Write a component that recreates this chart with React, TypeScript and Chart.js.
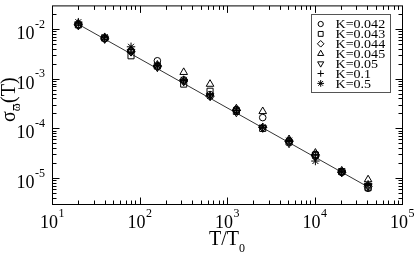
import React, { useEffect, useRef } from 'react';
import { Chart, registerables } from 'chart.js';

Chart.register(...registerables);

// ---- data ----
const xValues = [20, 40, 80, 160, 320, 640, 1280, 2560, 5120, 10240, 20480, 40960];
const seriesLabels = ['K=0.042', 'K=0.043', 'K=0.044', 'K=0.045', 'K=0.05', 'K=0.1', 'K=0.5'];
const k042 = [1.2e-2, 6.5e-3, 3.7e-3, 2.3e-3, 9.5e-4, 4.8e-4, 2.4e-4, 1.65e-4, 5.6e-5, 3.0e-5, 1.3e-5, 6.2e-6];
const k043 = [1.22e-2, 6.6e-3, 2.9e-3, 1.8e-3, 7.8e-4, 5.6e-4, 2.2e-4, 1.0e-4, 5.3e-5, 2.9e-5, 1.35e-5, 6.4e-6];
const k044 = [1.24e-2, 6.4e-3, 3.5e-3, 1.75e-3, 9.0e-4, 4.4e-4, 2.3e-4, 1.05e-4, 5.4e-5, 2.8e-5, 1.3e-5, 6.8e-6];
const k045 = [1.3e-2, 6.8e-3, 3.8e-3, 1.9e-3, 1.35e-3, 7.8e-4, 2.5e-4, 2.2e-4, 6.0e-5, 3.2e-5, 1.4e-5, 9.3e-6];
const k05 = [1.18e-2, 6.3e-3, 3.5e-3, 1.7e-3, 8.8e-4, 4.5e-4, 2.1e-4, 1.02e-4, 5.0e-5, 2.7e-5, 1.3e-5, 7.0e-6];
const k1 = [1.25e-2, 6.7e-3, 3.6e-3, 1.8e-3, 9.2e-4, 4.7e-4, 2.3e-4, 1.06e-4, 5.6e-5, 2.9e-5, 1.32e-5, 7.2e-6];
const k5 = [1.38e-2, 6.9e-3, 4.4e-3, 1.85e-3, 9.5e-4, 4.5e-4, 2.35e-4, 1.05e-4, 5.7e-5, 2.2e-5, 1.35e-5, 7.5e-6];
const seriesValues = [k042, k043, k044, k045, k05, k1, k5];
const fitX = [20, 40960];
const fitY = [1.25e-2, 6.6e-6];

const xMajorTicks = [10, 100, 1000, 10000, 100000];
const xTickExponents = ['1', '2', '3', '4', '5'];
const yMajorTicks = [1e-5, 1e-4, 1e-3, 1e-2];
const yTickExponents = ['-5', '-4', '-3', '-2'];
const xMin = 10, xMax = 1e5, yMin = 3e-6, yMax = 3e-2;

// ---- styles ----
const markerStyles = [
  { style: 'circle', rot: 0, r: 3.3 },
  { style: 'rect', rot: 0, r: 4.3 },
  { style: 'rectRot', rot: 0, r: 4.1 },
  { style: 'triangle', rot: 0, r: 4.4 },
  { style: 'triangle', rot: 180, r: 4.4 },
  { style: 'cross', rot: 0, r: 4 },
  { style: 'star', rot: 0, r: 4.2 },
];
const SERIF = '"Liberation Serif", "Times New Roman", serif';

function drawMarker(ctx: CanvasRenderingContext2D, style: string, rot: number, x: number, y: number, r: number) {
  ctx.beginPath();
  if (style === 'circle') {
    ctx.arc(x, y, r, 0, Math.PI * 2);
  } else if (style === 'rect') {
    const s = Math.SQRT1_2 * r;
    ctx.rect(x - s, y - s, 2 * s, 2 * s);
  } else if (style === 'rectRot') {
    ctx.moveTo(x - r, y); ctx.lineTo(x, y - r); ctx.lineTo(x + r, y); ctx.lineTo(x, y + r); ctx.closePath();
  } else if (style === 'triangle') {
    let a = (rot * Math.PI) / 180;
    ctx.moveTo(x + Math.sin(a) * r, y - Math.cos(a) * r);
    a += (2 * Math.PI) / 3;
    ctx.lineTo(x + Math.sin(a) * r, y - Math.cos(a) * r);
    a += (2 * Math.PI) / 3;
    ctx.lineTo(x + Math.sin(a) * r, y - Math.cos(a) * r);
    ctx.closePath();
  } else if (style === 'cross') {
    ctx.moveTo(x, y - r); ctx.lineTo(x, y + r); ctx.moveTo(x - r, y); ctx.lineTo(x + r, y);
  } else if (style === 'star') {
    ctx.moveTo(x, y - r); ctx.lineTo(x, y + r); ctx.moveTo(x - r, y); ctx.lineTo(x + r, y);
    const d = r * Math.SQRT1_2;
    ctx.moveTo(x - d, y - d); ctx.lineTo(x + d, y + d); ctx.moveTo(x - d, y + d); ctx.lineTo(x + d, y - d);
  }
  ctx.stroke();
}

function minorValues(min: number, max: number) {
  const out: number[] = [];
  for (let e = -7; e <= 6; e++) {
    for (let m = 1; m <= 9; m++) {
      const v = m * Math.pow(10, e);
      if (v >= min * 1.0001 && v <= max * 0.9999) out.push(v);
    }
  }
  return out;
}

const framePlugin = {
  id: 'framePlugin',
  afterDatasetsDraw(chart: any) {
    const { ctx, chartArea: a, scales } = chart;
    const xs = scales.x, ys = scales.y;
    const L = a.left + 0.5, R = a.right + 0.5, T = a.top + 0.5, B = a.bottom + 0.5;
    ctx.save();
    ctx.strokeStyle = '#000';
    ctx.lineWidth = 1;
    ctx.strokeRect(L, T, R - L, B - T);

    // ticks on all four sides, pointing inward
    ctx.beginPath();
    for (const v of minorValues(xMin, xMax)) {
      const px = Math.round(xs.getPixelForValue(v)) + 0.5;
      const major = xMajorTicks.some((m) => Math.abs(m - v) / m < 1e-6);
      const len = major ? 7 : 4;
      ctx.moveTo(px, B); ctx.lineTo(px, B - len);
      ctx.moveTo(px, T); ctx.lineTo(px, T + len);
    }
    for (const v of minorValues(yMin, yMax)) {
      const py = Math.round(ys.getPixelForValue(v)) + 0.5;
      const major = yMajorTicks.some((m) => Math.abs(m - v) / m < 1e-6);
      const len = major ? 7 : 4;
      ctx.moveTo(L, py); ctx.lineTo(L + len, py);
      ctx.moveTo(R, py); ctx.lineTo(R - len, py);
    }
    ctx.stroke();

    // tick labels
    ctx.fillStyle = '#000';
    ctx.textBaseline = 'alphabetic';
    ctx.textAlign = 'left';
    const big = `18px ${SERIF}`;
    const small = `12px ${SERIF}`;
    xMajorTicks.forEach((v, i) => {
      const px = xs.getPixelForValue(v);
      ctx.font = big;
      const w1 = ctx.measureText('10').width;
      ctx.font = small;
      const w2 = ctx.measureText(xTickExponents[i]).width;
      const x0 = px - (w1 + w2) / 2;
      ctx.font = big;
      ctx.fillText('10', x0, 228);
      ctx.font = small;
      ctx.fillText(xTickExponents[i], x0 + w1 + 0.5, 217);
    });
    yMajorTicks.forEach((v, i) => {
      const py = ys.getPixelForValue(v);
      ctx.font = small;
      const w2 = ctx.measureText(yTickExponents[i]).width;
      ctx.font = big;
      const w1 = ctx.measureText('10').width;
      const xr = 45;
      ctx.fillText('10', xr - w2 - w1 - 0.5, py + 10);
      ctx.font = small;
      ctx.fillText(yTickExponents[i], xr - w2, py - 1.5);
    });

    // x title
    {
      ctx.font = `20px ${SERIF}`;
      const w1 = ctx.measureText('T/T').width;
      ctx.font = `12px ${SERIF}`;
      const w2 = ctx.measureText('0').width;
      const cx = (a.left + a.right) / 2;
      const x0 = cx - (w1 + w2) / 2;
      ctx.font = `20px ${SERIF}`;
      ctx.fillText('T/T', x0, 245);
      ctx.font = `12px ${SERIF}`;
      ctx.fillText('0', x0 + w1, 252);
    }

    // y title (rotated)
    {
      ctx.save();
      ctx.translate(15, 100);
      ctx.rotate(-Math.PI / 2);
      ctx.font = `20px ${SERIF}`;
      const ws = ctx.measureText('σ').width;
      const wp = ctx.measureText('(T)').width;
      ctx.font = `12px ${SERIF}`;
      const wo = ctx.measureText('ω').width;
      const x0 = -(ws + wo + wp) / 2;
      ctx.font = `20px ${SERIF}`;
      ctx.fillText('σ', x0, 0);
      ctx.font = `12px ${SERIF}`;
      ctx.fillText('ω', x0 + ws, 5);
      ctx.beginPath();
      ctx.moveTo(x0 + ws + 1, -1.5);
      ctx.lineTo(x0 + ws + wo - 1, -1.5);
      ctx.stroke();
      ctx.font = `20px ${SERIF}`;
      ctx.fillText('(T)', x0 + ws + wo + 0.5, 0);
      ctx.restore();
    }

    // legend
    {
      const bx = 311.5, by = 14.5, bw = 79, bh = 78;
      ctx.fillStyle = '#fff';
      ctx.fillRect(bx, by, bw, bh);
      ctx.strokeStyle = '#555';
      ctx.strokeRect(bx, by, bw, bh);
      ctx.strokeStyle = '#000';
      ctx.fillStyle = '#000';
      ctx.font = `12px ${SERIF}`;
      seriesLabels.forEach((lab, i) => {
        const cy = 24 + i * 9.9;
        const m = markerStyles[i];
        drawMarker(ctx, m.style, m.rot, 320.7, cy, m.r * 0.8);
        ctx.save();
        ctx.translate(335.5, cy + 4.2);
        ctx.scale(1.17, 1);
        ctx.fillText(lab, 0, 0);
        ctx.restore();
      });
    }
    ctx.restore();
  },
};

export default function App() {
  const ref = useRef<HTMLCanvasElement | null>(null);
  useEffect(() => {
    if (!ref.current) return;
    const datasets: any[] = seriesLabels.map((lab, i) => ({
      label: lab,
      data: xValues.map((x, j) => ({ x, y: seriesValues[i][j] })),
      pointStyle: markerStyles[i].style,
      pointRotation: markerStyles[i].rot,
      pointRadius: markerStyles[i].r,
      pointBorderColor: '#000',
      pointBackgroundColor: 'rgba(0,0,0,0)',
      pointBorderWidth: 1,
      showLine: false,
    }));
    datasets.push({
      label: 'fit',
      data: fitX.map((x, j) => ({ x, y: fitY[j] })),
      showLine: true,
      pointRadius: 0,
      borderColor: '#333',
      borderWidth: 1,
      fill: false,
    });
    const chart = new Chart(ref.current, {
      type: 'scatter',
      data: { datasets },
      options: {
        animation: false,
        responsive: false,
        devicePixelRatio: 1,
        layout: { padding: { left: 52, top: 0, right: 13, bottom: 57 } },
        scales: {
          x: { type: 'logarithmic', min: xMin, max: xMax, display: false },
          y: { type: 'logarithmic', min: yMin, max: yMax, display: false },
        },
        plugins: { legend: { display: false }, tooltip: { enabled: false } },
      },
      plugins: [framePlugin],
    } as any);
    return () => chart.destroy();
  }, []);
  return (
    <div style={{ position: 'absolute', left: 0, top: 0, width: 415, height: 261, background: '#fff' }}>
      <canvas ref={ref} width={415} height={261} style={{ display: 'block' }} />
    </div>
  );
}
